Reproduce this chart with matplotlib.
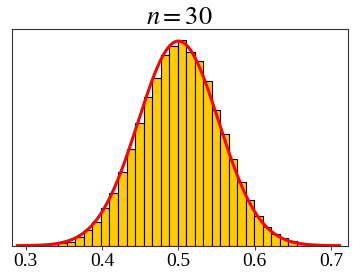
import numpy as np
import matplotlib
matplotlib.use("Agg")
import matplotlib.pyplot as plt

plt.rcParams['font.family'] = ['Liberation Serif', 'DejaVu Serif']
plt.rcParams['mathtext.fontset'] = 'stix'

# histogram of sample means (n = 30), density values
bin_start = 0.3208
bin_width = 0.01113
density = [0.02, 0.05, 0.09, 0.15, 0.33, 0.58, 0.89, 1.38, 1.96, 2.71, 3.59,
           4.55, 5.50, 6.21, 7.07, 7.37, 7.62, 7.17, 6.82, 6.08, 5.01, 4.15,
           3.20, 2.35, 1.69, 1.10, 0.69, 0.43, 0.27, 0.16, 0.11, 0.06, 0.03]

# normal curve parameters
mu = 0.5
sigma = 0.0527

edges = bin_start + bin_width * np.arange(len(density) + 1)
centers = 0.5 * (edges[1:] + edges[:-1])

x = np.linspace(mu - 4 * sigma, mu + 4 * sigma, 400)
pdf = np.exp(-0.5 * ((x - mu) / sigma) ** 2) / (sigma * np.sqrt(2 * np.pi))

fig = plt.figure(figsize=(3.57, 2.8), dpi=100)
ax = fig.add_axes([0.033, 0.1225, 0.941, 0.7725])

ax.bar(centers, density, width=bin_width, color="#FFCC00", edgecolor="black", linewidth=0.8)
ax.plot(x, pdf, color="red", linewidth=2.2)

ax.set_title("$n=30$", fontsize=19, pad=2)
ax.set_xlim(0.282, 0.7215)
ax.set_ylim(0, max(density) * 1.05)
ax.set_yticks([])
ax.set_xticks([0.3, 0.4, 0.5, 0.6, 0.7])
ax.set_xticklabels(["0.3", "0.4", "0.5", "0.6", "0.7"])
ax.tick_params(axis='x', labelsize=14, length=3, width=0.8, color="#444444", pad=2)
for s in ax.spines.values():
    s.set_color("#333333")
    s.set_linewidth(0.8)

plt.savefig("out.png", dpi=100)
